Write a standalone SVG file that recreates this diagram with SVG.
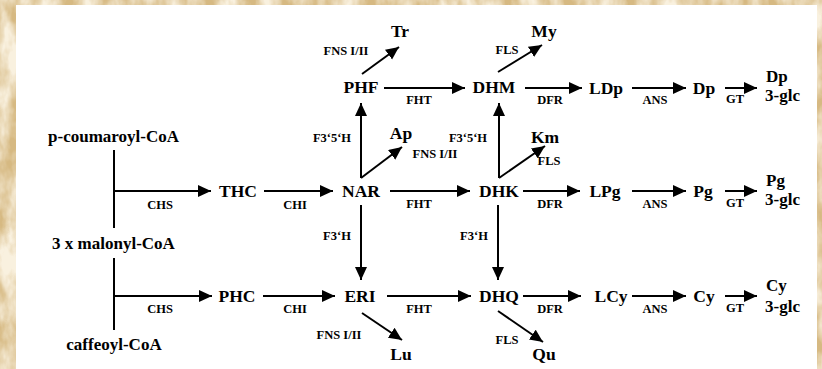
<svg xmlns="http://www.w3.org/2000/svg" width="822" height="369" viewBox="0 0 822 369">
<defs>
<filter id="tex" x="0" y="0" width="100%" height="100%">
<feTurbulence type="fractalNoise" baseFrequency="0.05 0.025" numOctaves="4" seed="3"/>
<feColorMatrix type="matrix" values="0 0 0 0 0.95 0 0 0 0 0.88 0 0 0 0 0.74 2.4 0 0 0 -0.75"/>
</filter>
<marker id="ah" markerUnits="userSpaceOnUse" markerWidth="14" markerHeight="13" refX="13" refY="6" orient="auto">
<path d="M0,0 L13,6 L0,12 z" fill="#000"/>
</marker>
<style>
.n{font-family:"Liberation Serif","Times New Roman",serif;font-weight:bold;font-size:17.5px;fill:#000;text-anchor:middle}
.s{font-family:"Liberation Serif","Times New Roman",serif;font-weight:bold;font-size:12.5px;fill:#000;text-anchor:middle}
.l{font-family:"Liberation Serif","Times New Roman",serif;font-weight:bold;font-size:17px;fill:#000;text-anchor:middle}
.g{font-family:"Liberation Serif","Times New Roman",serif;font-weight:bold;font-size:17px;fill:#000}
.c line{stroke:#000;stroke-width:2;fill:none}
.c .a{marker-end:url(#ah)}
</style>
</defs>
<rect x="0" y="0" width="822" height="369" fill="#d6b982"/>
<rect x="0" y="0" width="822" height="369" filter="url(#tex)"/>
<rect x="16" y="5" width="801" height="364" fill="#fff"/>

<g id="connectors" class="c">
<line x1="114" y1="150" x2="114" y2="228"/>
<line x1="114" y1="258" x2="114" y2="330"/>
<line class="a" x1="114" y1="191" x2="211" y2="191"/>
<line class="a" x1="114" y1="296" x2="212" y2="296"/>
<line class="a" x1="264" y1="191" x2="333" y2="191"/>
<line class="a" x1="263" y1="296" x2="335" y2="296"/>
<line class="a" x1="390" y1="191" x2="470" y2="191"/>
<line class="a" x1="387" y1="296" x2="471" y2="296"/>
<line class="a" x1="384" y1="88" x2="465" y2="88"/>
<line class="a" x1="525" y1="88" x2="582" y2="88"/>
<line class="a" x1="523" y1="191" x2="580" y2="191"/>
<line class="a" x1="523" y1="296" x2="581" y2="296"/>
<line class="a" x1="632" y1="88" x2="686" y2="88"/>
<line class="a" x1="632" y1="191" x2="686" y2="191"/>
<line class="a" x1="632" y1="296" x2="686" y2="296"/>
<line class="a" x1="725" y1="88" x2="757" y2="88"/>
<line class="a" x1="725" y1="191" x2="757" y2="191"/>
<line class="a" x1="725" y1="296" x2="757" y2="296"/>
<line class="a" x1="361" y1="205" x2="361" y2="280"/>
<line class="a" x1="498" y1="205" x2="498" y2="280"/>
<line class="a" x1="361" y1="178" x2="361" y2="103"/>
<line class="a" x1="499" y1="178" x2="499" y2="103"/>
<line class="a" x1="361" y1="178" x2="402" y2="147"/>
<line class="a" x1="499" y1="178" x2="545" y2="146"/>
<line class="a" x1="362" y1="74" x2="399" y2="47"/>
<line class="a" x1="498" y1="72" x2="542" y2="45"/>
<line class="a" x1="362" y1="313" x2="402" y2="340"/>
<line class="a" x1="498" y1="311" x2="543" y2="342"/>
</g>

<g id="labels">
<text class="s" x="160" y="209">CHS</text>
<text class="s" x="160" y="313">CHS</text>
<text class="s" x="295" y="209">CHI</text>
<text class="s" x="295" y="313">CHI</text>
<text class="s" x="419" y="104">FHT</text>
<text class="s" x="419" y="208">FHT</text>
<text class="s" x="419" y="313">FHT</text>
<text class="s" x="550" y="104">DFR</text>
<text class="s" x="550" y="208">DFR</text>
<text class="s" x="550" y="313">DFR</text>
<text class="s" x="655" y="104">ANS</text>
<text class="s" x="655" y="208">ANS</text>
<text class="s" x="655" y="313">ANS</text>
<text class="s" x="735" y="103">GT</text>
<text class="s" x="735" y="207">GT</text>
<text class="s" x="735" y="312">GT</text>
<text class="s" x="332" y="142">F3‘5‘H</text>
<text class="s" x="468" y="142">F3‘5‘H</text>
<text class="s" x="337" y="240">F3‘H</text>
<text class="s" x="474" y="240">F3‘H</text>
<text class="s" x="346" y="55">FNS I/II</text>
<text class="s" x="435" y="158">FNS I/II</text>
<text class="s" x="339" y="339">FNS I/II</text>
<text class="s" x="507" y="54">FLS</text>
<text class="s" x="549" y="165">FLS</text>
<text class="s" x="507" y="344">FLS</text>
</g>

<g id="n-pcoum"><text class="l" x="113.5" y="142">p-coumaroyl-CoA</text></g>
<g id="n-malonyl"><text class="l" x="113.5" y="249">3 x malonyl-CoA</text></g>
<g id="n-caff"><text class="l" x="114" y="350">caffeoyl-CoA</text></g>
<g id="n-THC"><text class="n" x="238" y="197">THC</text></g>
<g id="n-PHC"><text class="n" x="237" y="302">PHC</text></g>
<g id="n-NAR"><text class="n" x="361" y="197">NAR</text></g>
<g id="n-ERI"><text class="n" x="360" y="302">ERI</text></g>
<g id="n-PHF"><text class="n" x="361" y="93">PHF</text></g>
<g id="n-DHK"><text class="n" x="499" y="197">DHK</text></g>
<g id="n-DHQ"><text class="n" x="499" y="302">DHQ</text></g>
<g id="n-DHM"><text class="n" x="494" y="93">DHM</text></g>
<g id="n-Tr"><text class="n" x="400" y="37">Tr</text></g>
<g id="n-My"><text class="n" x="544" y="37">My</text></g>
<g id="n-Ap"><text class="n" x="401" y="139">Ap</text></g>
<g id="n-Km"><text class="n" x="545" y="143">Km</text></g>
<g id="n-Lu"><text class="n" x="401" y="360">Lu</text></g>
<g id="n-Qu"><text class="n" x="544" y="360">Qu</text></g>
<g id="n-LDp"><text class="n" x="606" y="94">LDp</text></g>
<g id="n-LPg"><text class="n" x="605" y="197">LPg</text></g>
<g id="n-LCy"><text class="n" x="611" y="302">LCy</text></g>
<g id="n-Dp"><text class="n" x="704" y="94">Dp</text></g>
<g id="n-Pg"><text class="n" x="703" y="197">Pg</text></g>
<g id="n-Cy"><text class="n" x="704" y="302">Cy</text></g>
<g id="n-Dp3glc"><text class="g" x="766" y="82">Dp</text><text class="g" x="765" y="101">3-glc</text></g>
<g id="n-Pg3glc"><text class="g" x="766" y="186">Pg</text><text class="g" x="765" y="205">3-glc</text></g>
<g id="n-Cy3glc"><text class="g" x="766" y="291">Cy</text><text class="g" x="765" y="312">3-glc</text></g>
</svg>
